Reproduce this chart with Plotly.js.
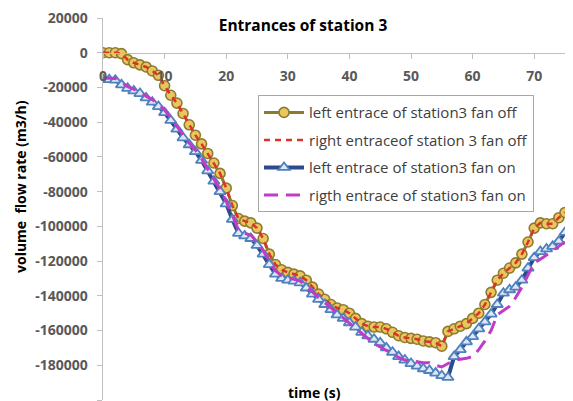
<!DOCTYPE html>
<html>
<head>
<meta charset="utf-8">
<script src="https://cdn.plot.ly/plotly-3.0.1.min.js"></script>
<style>html,body{margin:0;padding:0;background:#fff;}#chart{width:573px;height:401px;}</style>
</head>
<body>
<div id="chart"></div>
<script>
// time axis (s)
const time = [0,1,2,3,4,5,6,7,8,9,10,11,12,13,14,15,16,17,18,19,20,21,22,23,24,25,26,27,28,29,30,31,32,33,34,35,36,37,38,39,40,41,42,43,44,45,46,47,48,49,50,51,52,53,54,55,56,57,58,59,60,61,62,63,64,65,66,67,68,69,70,71,72,73,74,75];

const leftFanOff = [0,0,0,-500,-4000,-5800,-7000,-8200,-10500,-13000,-19000,-24500,-29000,-35000,-41500,-47500,-52500,-58000,-63500,-69500,-78000,-88000,-95500,-97000,-98000,-101000,-107000,-116000,-122000,-125000,-126500,-127500,-128500,-131000,-135000,-139000,-142000,-145000,-147000,-148000,-150000,-153000,-156000,-157500,-158000,-158000,-159000,-161000,-163000,-164000,-164500,-165000,-166000,-166500,-167000,-169000,-160500,-159000,-157500,-156000,-153000,-150000,-145000,-138000,-131000,-127000,-124000,-121000,-116000,-109000,-101000,-98000,-98500,-98500,-95000,-92000];

const rightFanOff = [0,0,0,-500,-4000,-5800,-7000,-8200,-10500,-13000,-19000,-24500,-29000,-35000,-41500,-47500,-52500,-58000,-63500,-69500,-78000,-88000,-95500,-97000,-98000,-101000,-107000,-116000,-122000,-125000,-126500,-127500,-128500,-131000,-135000,-139000,-142000,-145000,-147000,-148000,-150000,-153000,-156000,-157500,-158000,-158000,-159000,-161000,-163000,-164000,-164500,-165000,-166000,-166500,-167000,-169000,-160500,-159000,-157500,-156000,-153000,-150000,-145000,-138000,-131000,-127000,-124000,-121000,-116000,-109000,-101000,-98000,-98500,-98500,-95000,-92000];

const leftFanOn = [-15500,-15500,-15800,-18500,-20500,-22000,-23500,-26000,-28500,-31000,-34500,-39000,-44000,-49000,-53000,-57000,-62000,-68000,-74000,-80000,-87000,-96000,-104000,-105500,-107000,-111000,-116000,-122000,-127500,-130000,-131000,-131500,-132500,-135500,-139000,-142000,-145000,-148000,-151000,-153000,-155500,-158000,-161000,-163000,-165000,-167000,-170000,-172500,-175000,-177000,-179000,-180500,-182000,-183000,-184500,-186000,-187000,-175000,-171000,-166500,-163500,-159000,-155000,-150500,-145000,-138500,-136500,-135000,-131000,-124000,-118000,-114500,-113000,-111500,-108500,-103500];

const rightFanOn = [-14500,-14500,-14800,-17000,-19500,-21000,-22500,-25000,-27000,-29500,-33000,-37500,-42500,-47500,-52000,-56000,-61000,-67000,-72500,-78500,-85500,-94000,-102000,-104000,-105000,-109000,-114000,-120000,-125500,-128500,-129500,-130500,-131500,-134500,-138000,-141000,-144000,-147000,-150000,-153000,-156000,-159000,-162000,-165000,-167500,-169500,-171500,-173500,-175500,-177000,-178000,-178000,-178500,-178500,-180000,-181000,-179000,-177000,-176500,-176000,-175000,-171000,-166000,-160000,-151000,-148500,-146000,-141000,-135000,-128000,-121000,-119000,-116500,-113500,-111000,-109000];

const seriesNames = [
  "left entrace of station3 fan off",
  "right entraceof station 3 fan off",
  "left entrace of station3 fan on",
  "rigth entrace of station3 fan on"
];
const yTickVals = [20000,0,-20000,-40000,-60000,-80000,-100000,-120000,-140000,-160000,-180000,-200000];
const xTickVals = [0,10,20,30,40,50,60,70];

const FONT = "Open Sans, Noto Sans, sans-serif";
const GRAY = "#595959";

const traces = [
  {x: time, y: leftFanOff, name: seriesNames[0], type: "scatter", mode: "lines+markers", legendgroup: "a",
   line: {color: "#8C7A2E", width: 3},
   marker: {symbol: "circle", size: 10, color: "#E8C85E", line: {color: "#8F7B2F", width: 1.6}}},
  {x: time, y: rightFanOff, name: seriesNames[1], type: "scatter", mode: "lines", legendgroup: "b",
   line: {color: "#E0302A", width: 2.5, dash: "6px,5px"}},
  {x: time, y: leftFanOn, name: seriesNames[2], type: "scatter", mode: "lines+markers", legendgroup: "c",
   line: {color: "#2B4C8C", width: 4},
   marker: {symbol: "triangle-up", size: 10, color: "#DDE7F5", line: {color: "#4F81BD", width: 1.8}}},
  {x: time, y: rightFanOn, name: seriesNames[3], type: "scatter", mode: "lines", legendgroup: "d",
   line: {color: "#C03CC8", width: 3, dash: "14px,8px"}}
];

const layout = {
  width: 573, height: 401,
  margin: {l: 103, r: 8, t: 18, b: 1},
  paper_bgcolor: "#ffffff", plot_bgcolor: "#ffffff",
  showlegend: true,
  font: {family: FONT, color: GRAY},
  xaxis: {
    range: [0, 75], tickvals: xTickVals, ticktext: xTickVals.map(String),
    anchor: "free", position: 200000/220000,
    showgrid: false, zeroline: false, showline: true, linecolor: "#BFBFBF", linewidth: 1.5,
    ticks: "outside", ticklen: 5, tickcolor: "#BFBFBF", ticklabelstandoff: 5,
    tickfont: {family: FONT, size: 14, color: GRAY, weight: "bold"}
  },
  yaxis: {
    range: [-200000, 20000], tickvals: yTickVals, ticktext: yTickVals.map(String),
    showgrid: false, zeroline: false, showline: true, linecolor: "#BFBFBF", linewidth: 1.5,
    ticks: "outside", ticklen: 5, tickcolor: "#BFBFBF", ticklabelstandoff: 6,
    tickfont: {family: FONT, size: 14, color: GRAY, weight: "bold"}
  },
  title: {
    text: "<b>Entrances of station 3</b>",
    font: {family: FONT, size: 15.5, color: "#000000"},
    x: 303/573, xref: "container", xanchor: "center",
    y: 1 - 26/401, yref: "container", yanchor: "middle"
  },
  legend: {
    x: 0.3355, y: 0.798, xanchor: "left", yanchor: "top",
    bgcolor: "#ffffff", bordercolor: "#A6A6A6", borderwidth: 1,
    font: {family: FONT, size: 15, color: "#404040"},
    traceorder: "grouped", tracegroupgap: 5, itemwidth: 40
  },
  annotations: [
    {text: "<b>time (s)</b>", xref: "paper", yref: "paper", x: (314-103)/462, y: (400-392)/382,
     xanchor: "center", yanchor: "middle", showarrow: false,
     font: {family: FONT, size: 14, color: "#000000"}},
    {text: "<b>volume  flow rate (m3/h)</b>", xref: "paper", yref: "paper", x: (20-103)/462, y: (400-187)/382,
     xanchor: "center", yanchor: "middle", showarrow: false, textangle: -90,
     font: {family: FONT, size: 14, color: "#000000"}}
  ]
};

Plotly.newPlot("chart", traces, layout, {displayModeBar: false, staticPlot: true});
</script>
</body>
</html>
